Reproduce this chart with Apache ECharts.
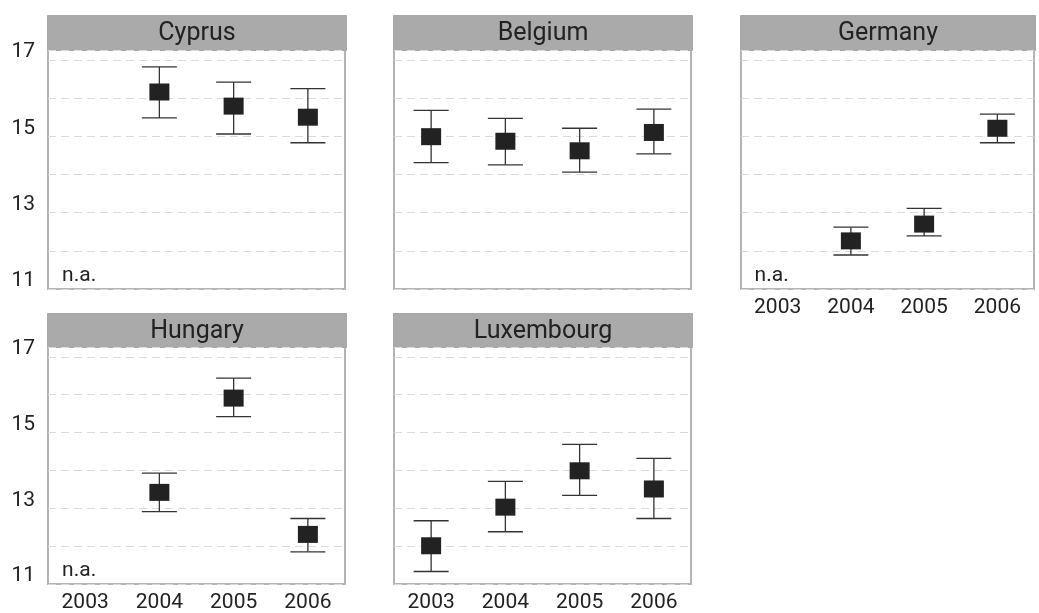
<!DOCTYPE html>
<html>
<head>
<meta charset="utf-8">
<script src="https://cdn.jsdelivr.net/npm/echarts@6/dist/echarts.min.js"></script>
<style>
  html, body { margin: 0; padding: 0; background: #ffffff; }
  #chart { width: 1039px; height: 613px; }
</style>
</head>
<body>
<div id="chart"></div>
<script>
// Years on every panel's x axis
const years = ['2003', '2004', '2005', '2006'];
// Labels shown on the y axis (gridlines at every whole unit)
const yTickLabels = ['11', '13', '15', '17'];
const countries = ['Cyprus', 'Belgium', 'Germany', 'Hungary', 'Luxembourg'];

// Point estimates and interval bounds per year (null = not available)
const cyprusMean = [null, 16.16, 15.79, 15.50];
const cyprusLow  = [null, 15.48, 15.06, 14.83];
const cyprusHigh = [null, 16.82, 16.42, 16.25];

const belgiumMean = [14.99, 14.87, 14.62, 15.10];
const belgiumLow  = [14.31, 14.25, 14.06, 14.54];
const belgiumHigh = [15.68, 15.47, 15.21, 15.71];

const germanyMean = [null, 12.26, 12.70, 15.21];
const germanyLow  = [null, 11.89, 12.39, 14.83];
const germanyHigh = [null, 12.62, 13.11, 15.58];

const hungaryMean = [null, 13.42, 15.91, 12.31];
const hungaryLow  = [null, 12.91, 15.42, 11.85];
const hungaryHigh = [null, 13.93, 16.44, 12.73];

const luxembourgMean = [12.01, 13.03, 13.99, 13.51];
const luxembourgLow  = [11.33, 12.38, 13.34, 12.73];
const luxembourgHigh = [12.67, 13.71, 14.69, 14.32];

const naText = 'n.a.';
const naLevel = 11.34;

const panelData = [
  { mean: cyprusMean, low: cyprusLow, high: cyprusHigh },
  { mean: belgiumMean, low: belgiumLow, high: belgiumHigh },
  { mean: germanyMean, low: germanyLow, high: germanyHigh },
  { mean: hungaryMean, low: hungaryLow, high: hungaryHigh },
  { mean: luxembourgMean, low: luxembourgLow, high: luxembourgHigh }
];

// Panel layout: grid boxes and header band positions
const panels = [
  { left: 48,  top: 50,  width: 297, height: 239, headTop: 15,  yLabels: true,  xLabels: false },
  { left: 394, top: 50,  width: 297, height: 239, headTop: 15,  yLabels: false, xLabels: false },
  { left: 741, top: 50,  width: 293, height: 239, headTop: 15,  yLabels: false, xLabels: true  },
  { left: 48,  top: 347, width: 297, height: 239, headTop: 313, yLabels: true,  xLabels: true  },
  { left: 394, top: 347, width: 297, height: 239, headTop: 313, yLabels: false, xLabels: true  }
];

const FONT = 'Roboto, "Liberation Sans", sans-serif';
const TEXT = '#222222';

const grid = [], xAxis = [], yAxis = [], series = [], graphic = [];

panels.forEach((p, i) => {
  grid.push({
    left: p.left, top: p.top, width: p.width, height: p.height,
    show: true, borderColor: '#b4b4b4', borderWidth: 2, backgroundColor: '#ffffff'
  });
  xAxis.push({
    type: 'category', gridIndex: i, data: years, boundaryGap: true,
    axisLine: { show: false }, axisTick: { show: false }, splitLine: { show: false },
    axisLabel: { show: p.xLabels, color: TEXT, fontFamily: FONT, fontSize: 21, margin: 8 }
  });
  yAxis.push({
    type: 'value', gridIndex: i, min: 11, max: 17.26, interval: 1,
    axisLine: { show: false }, axisTick: { show: false },
    splitLine: { show: true, lineStyle: { color: '#dadada', width: 1, type: [8, 5] } },
    axisLabel: {
      show: p.yLabels, color: TEXT, fontFamily: FONT, fontSize: 21, margin: 13,
      verticalAlign: 'bottom', lineHeight: 16,
      formatter: v => (yTickLabels.includes(String(v)) ? String(v) : '')
    }
  });

  const d = panelData[i];
  const barData = [], pointData = [], naData = [];
  years.forEach((y, k) => {
    if (d.mean[k] == null) {
      naData.push([k, naLevel]);
    } else {
      barData.push([k, d.low[k], d.high[k]]);
      pointData.push([k, d.mean[k]]);
    }
  });

  // Interval whiskers with caps
  series.push({
    type: 'custom', xAxisIndex: i, yAxisIndex: i, data: barData, z: 3,
    renderItem: (params, api) => {
      const lo = api.coord([api.value(0), api.value(1)]);
      const hi = api.coord([api.value(0), api.value(2)]);
      const half = 17.5;
      const style = { stroke: '#333333', lineWidth: 1.3 };
      return {
        type: 'group',
        children: [
          { type: 'line', shape: { x1: hi[0], y1: hi[1], x2: lo[0], y2: lo[1] }, style },
          { type: 'line', shape: { x1: hi[0] - half, y1: hi[1], x2: hi[0] + half, y2: hi[1] }, style },
          { type: 'line', shape: { x1: lo[0] - half, y1: lo[1], x2: lo[0] + half, y2: lo[1] }, style }
        ]
      };
    }
  });
  // Point estimates
  series.push({
    type: 'scatter', xAxisIndex: i, yAxisIndex: i, data: pointData, z: 4,
    symbol: 'rect', symbolSize: [20, 17],
    itemStyle: { color: '#222222', opacity: 1 }
  });
  // Missing-year note
  if (naData.length) {
    series.push({
      type: 'scatter', xAxisIndex: i, yAxisIndex: i, data: naData, z: 4,
      symbolSize: 1, itemStyle: { color: 'rgba(0,0,0,0)', opacity: 1 },
      label: {
        show: true, position: 'inside', offset: [-6, 0],
        formatter: naText, color: TEXT, fontFamily: FONT, fontSize: 21
      }
    });
  }

  // Header band with country name
  const headH = p.top - p.headTop;
  graphic.push({
    type: 'group', left: p.left - 1, top: p.headTop,
    children: [
      {
        type: 'rect', shape: { x: 0, y: 0, width: p.width + 2, height: headH },
        style: { fill: '#aaaaaa', stroke: '#a8a8a8', lineWidth: 1 }
      },
      {
        type: 'text', x: (p.width + 2) / 2, y: headH / 2 + 1,
        style: {
          text: countries[i], fill: TEXT, font: '400 25px ' + FONT,
          align: 'center', verticalAlign: 'middle'
        }
      }
    ]
  });
});

const chart = echarts.init(document.getElementById('chart'), null, { renderer: 'canvas' });
chart.setOption({
  animation: false,
  backgroundColor: '#ffffff',
  grid, xAxis, yAxis, series, graphic
});
</script>
</body>
</html>
